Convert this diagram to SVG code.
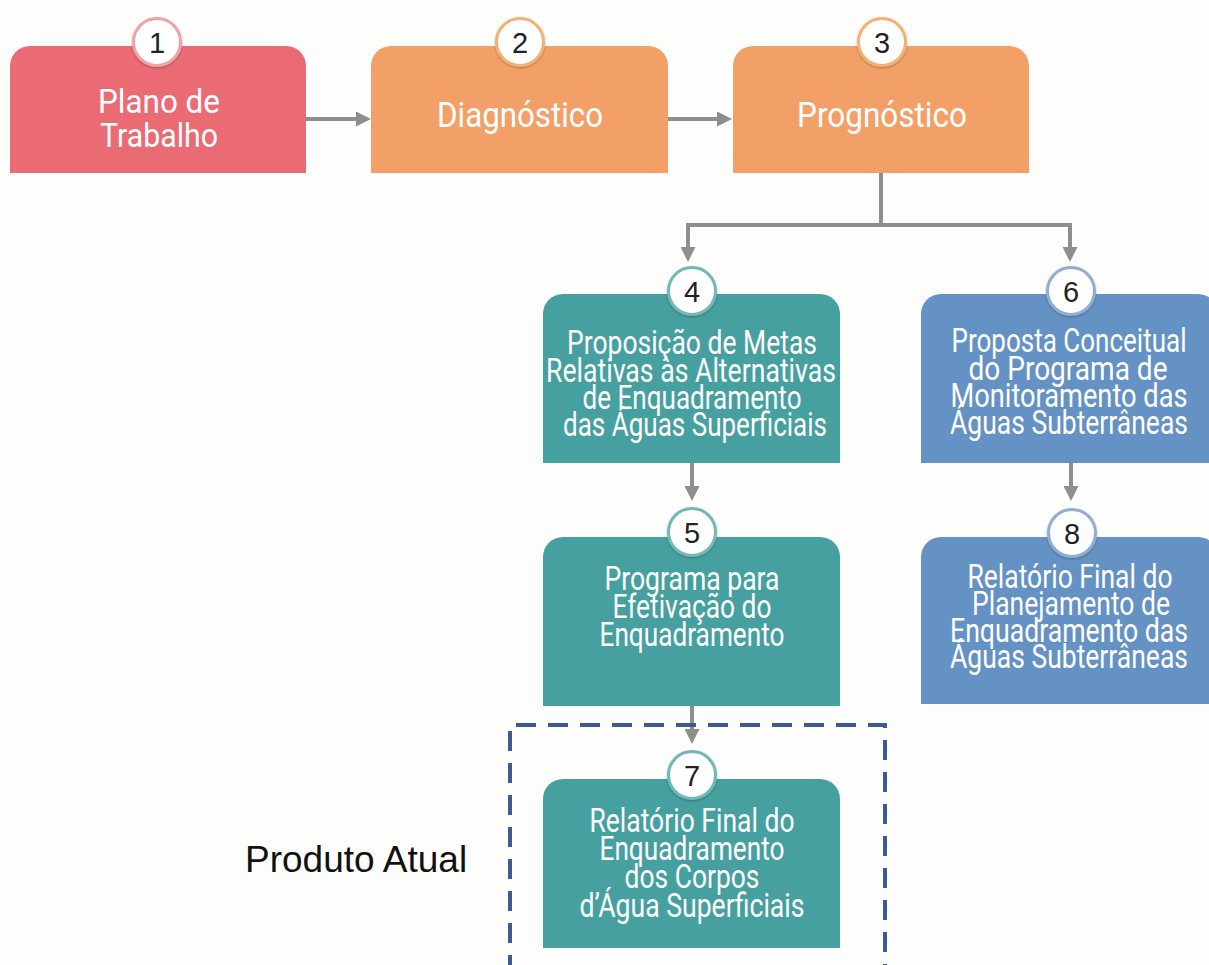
<svg xmlns="http://www.w3.org/2000/svg" width="1209" height="965" viewBox="0 0 1209 965">
<style>
.t{font-family:Roboto,"Liberation Sans",sans-serif;font-size:33px;fill:#fff;text-anchor:middle}
.big{font-size:35px}
.n{font-family:"Liberation Sans",Arial,sans-serif;font-size:29px;fill:#222;text-anchor:middle}
.c{fill:#fff;stroke-width:3}
.conn{fill:none;stroke:#8E8E8E;stroke-width:4;marker-end:url(#ah)}
.red{fill:#EA6B74}.org{fill:#F2A068}.teal{fill:#46A09F}.blue{fill:#6592C4}
</style>
<defs>
<marker id="ah" viewBox="0 0 15 15" refX="0" refY="7.5" markerWidth="15" markerHeight="15" markerUnits="userSpaceOnUse" orient="auto">
<path d="M0,0 L15,7.5 L0,15 Z" fill="#8E8E8E"/>
</marker>
<filter id="sh" x="-30%" y="-30%" width="160%" height="160%">
<feDropShadow dx="0" dy="1" stdDeviation="1.2" flood-color="#000" flood-opacity="0.3"/>
</filter>
</defs>
<rect width="1209" height="965" fill="#FDFDFC"/>

<g id="connectors">
<path class="conn" d="M306,119 H356"/>
<path class="conn" d="M668,119 H717"/>
<path class="conn" d="M881,173 V225 H688 V247"/>
<path class="conn" d="M879,225 H1070 V247"/>
<path class="conn" d="M692,463 V486"/>
<path class="conn" d="M1071,463 V486"/>
<path class="conn" d="M692,706 V729"/>
</g>

<g id="node1">
<path class="red" d="M10,173 V66 A20,20 0 0 1 30,46 H286 A20,20 0 0 1 306,66 V173 Z"/>
<circle class="c" cx="157" cy="42" r="23.5" stroke="#EFA3A8" filter="url(#sh)"/>
<text class="n" x="157" y="53">1</text>
<text class="t" x="159" y="113" textLength="122" lengthAdjust="spacingAndGlyphs">Plano de</text>
<text class="t" x="159" y="147" textLength="118" lengthAdjust="spacingAndGlyphs">Trabalho</text>
</g>

<g id="node2">
<path class="org" d="M371,173 V66 A20,20 0 0 1 391,46 H648 A20,20 0 0 1 668,66 V173 Z"/>
<circle class="c" cx="520" cy="42" r="23.5" stroke="#F2B277" filter="url(#sh)"/>
<text class="n" x="520" y="53">2</text>
<text class="t big" x="520" y="127" textLength="166" lengthAdjust="spacingAndGlyphs">Diagnóstico</text>
</g>

<g id="node3">
<path class="org" d="M733,173 V66 A20,20 0 0 1 753,46 H1009 A20,20 0 0 1 1029,66 V173 Z"/>
<circle class="c" cx="882" cy="42" r="23.5" stroke="#F2B277" filter="url(#sh)"/>
<text class="n" x="882" y="53">3</text>
<text class="t big" x="882" y="127" textLength="170" lengthAdjust="spacingAndGlyphs">Prognóstico</text>
</g>

<g id="node4">
<path class="teal" d="M543,463 V314 A20,20 0 0 1 563,294 H820 A20,20 0 0 1 840,314 V463 Z"/>
<circle class="c" cx="692" cy="291" r="23.5" stroke="#72B8B7" filter="url(#sh)"/>
<text class="n" x="692" y="302">4</text>
<text class="t" x="692" y="354" textLength="250" lengthAdjust="spacingAndGlyphs">Proposição de Metas</text>
<text class="t" x="691" y="382" textLength="290" lengthAdjust="spacingAndGlyphs">Relativas às Alternativas</text>
<text class="t" x="692" y="409" textLength="219" lengthAdjust="spacingAndGlyphs">de Enquadramento</text>
<text class="t" x="695" y="436" textLength="264" lengthAdjust="spacingAndGlyphs">das Águas Superficiais</text>
</g>

<g id="node6">
<path class="blue" d="M921,463 V314 A20,20 0 0 1 941,294 H1198 A20,20 0 0 1 1218,314 V463 Z"/>
<circle class="c" cx="1071" cy="291" r="23.5" stroke="#8FAED4" filter="url(#sh)"/>
<text class="n" x="1071" y="302">6</text>
<text class="t" x="1069" y="352" textLength="235" lengthAdjust="spacingAndGlyphs">Proposta Conceitual</text>
<text class="t" x="1068" y="380" textLength="199" lengthAdjust="spacingAndGlyphs">do Programa de</text>
<text class="t" x="1069" y="407" textLength="237" lengthAdjust="spacingAndGlyphs">Monitoramento das</text>
<text class="t" x="1069" y="434" textLength="238" lengthAdjust="spacingAndGlyphs">Águas Subterrâneas</text>
</g>

<g id="node5">
<path class="teal" d="M543,706 V557 A20,20 0 0 1 563,537 H820 A20,20 0 0 1 840,557 V706 Z"/>
<circle class="c" cx="692" cy="532" r="23.5" stroke="#72B8B7" filter="url(#sh)"/>
<text class="n" x="692" y="543">5</text>
<text class="t" x="692" y="590" textLength="175" lengthAdjust="spacingAndGlyphs">Programa para</text>
<text class="t" x="692" y="618" textLength="159" lengthAdjust="spacingAndGlyphs">Efetivação do</text>
<text class="t" x="692" y="646" textLength="185" lengthAdjust="spacingAndGlyphs">Enquadramento</text>
</g>

<g id="node8">
<path class="blue" d="M921,704 V557 A20,20 0 0 1 941,537 H1198 A20,20 0 0 1 1218,557 V704 Z"/>
<circle class="c" cx="1072" cy="533" r="23.5" stroke="#8FAED4" filter="url(#sh)"/>
<text class="n" x="1072" y="544">8</text>
<text class="t" x="1070" y="588" textLength="205" lengthAdjust="spacingAndGlyphs">Relatório Final do</text>
<text class="t" x="1071" y="615" textLength="198" lengthAdjust="spacingAndGlyphs">Planejamento de</text>
<text class="t" x="1069" y="642" textLength="238" lengthAdjust="spacingAndGlyphs">Enquadramento das</text>
<text class="t" x="1069" y="668" textLength="238" lengthAdjust="spacingAndGlyphs">Águas Subterrâneas</text>
</g>

<g id="node7">
<path class="teal" d="M543,948 V799 A20,20 0 0 1 563,779 H820 A20,20 0 0 1 840,799 V948 Z"/>
<circle class="c" cx="692" cy="775" r="23.5" stroke="#72B8B7" filter="url(#sh)"/>
<text class="n" x="692" y="786">7</text>
<text class="t" x="692" y="832" textLength="205" lengthAdjust="spacingAndGlyphs">Relatório Final do</text>
<text class="t" x="692" y="860" textLength="185" lengthAdjust="spacingAndGlyphs">Enquadramento</text>
<text class="t" x="692" y="888" textLength="135" lengthAdjust="spacingAndGlyphs">dos Corpos</text>
<text class="t" x="692" y="917" textLength="225" lengthAdjust="spacingAndGlyphs">d’Água Superficiais</text>
</g>

<g id="current">
<path d="M510,975 V725 H885 V975" fill="none" stroke="#3B5C8F" stroke-width="4" stroke-dasharray="20 12"/>
<text x="245" y="872" font-family="'Liberation Sans',Arial,sans-serif" font-size="37" fill="#111">Produto Atual</text>
</g>
</svg>
